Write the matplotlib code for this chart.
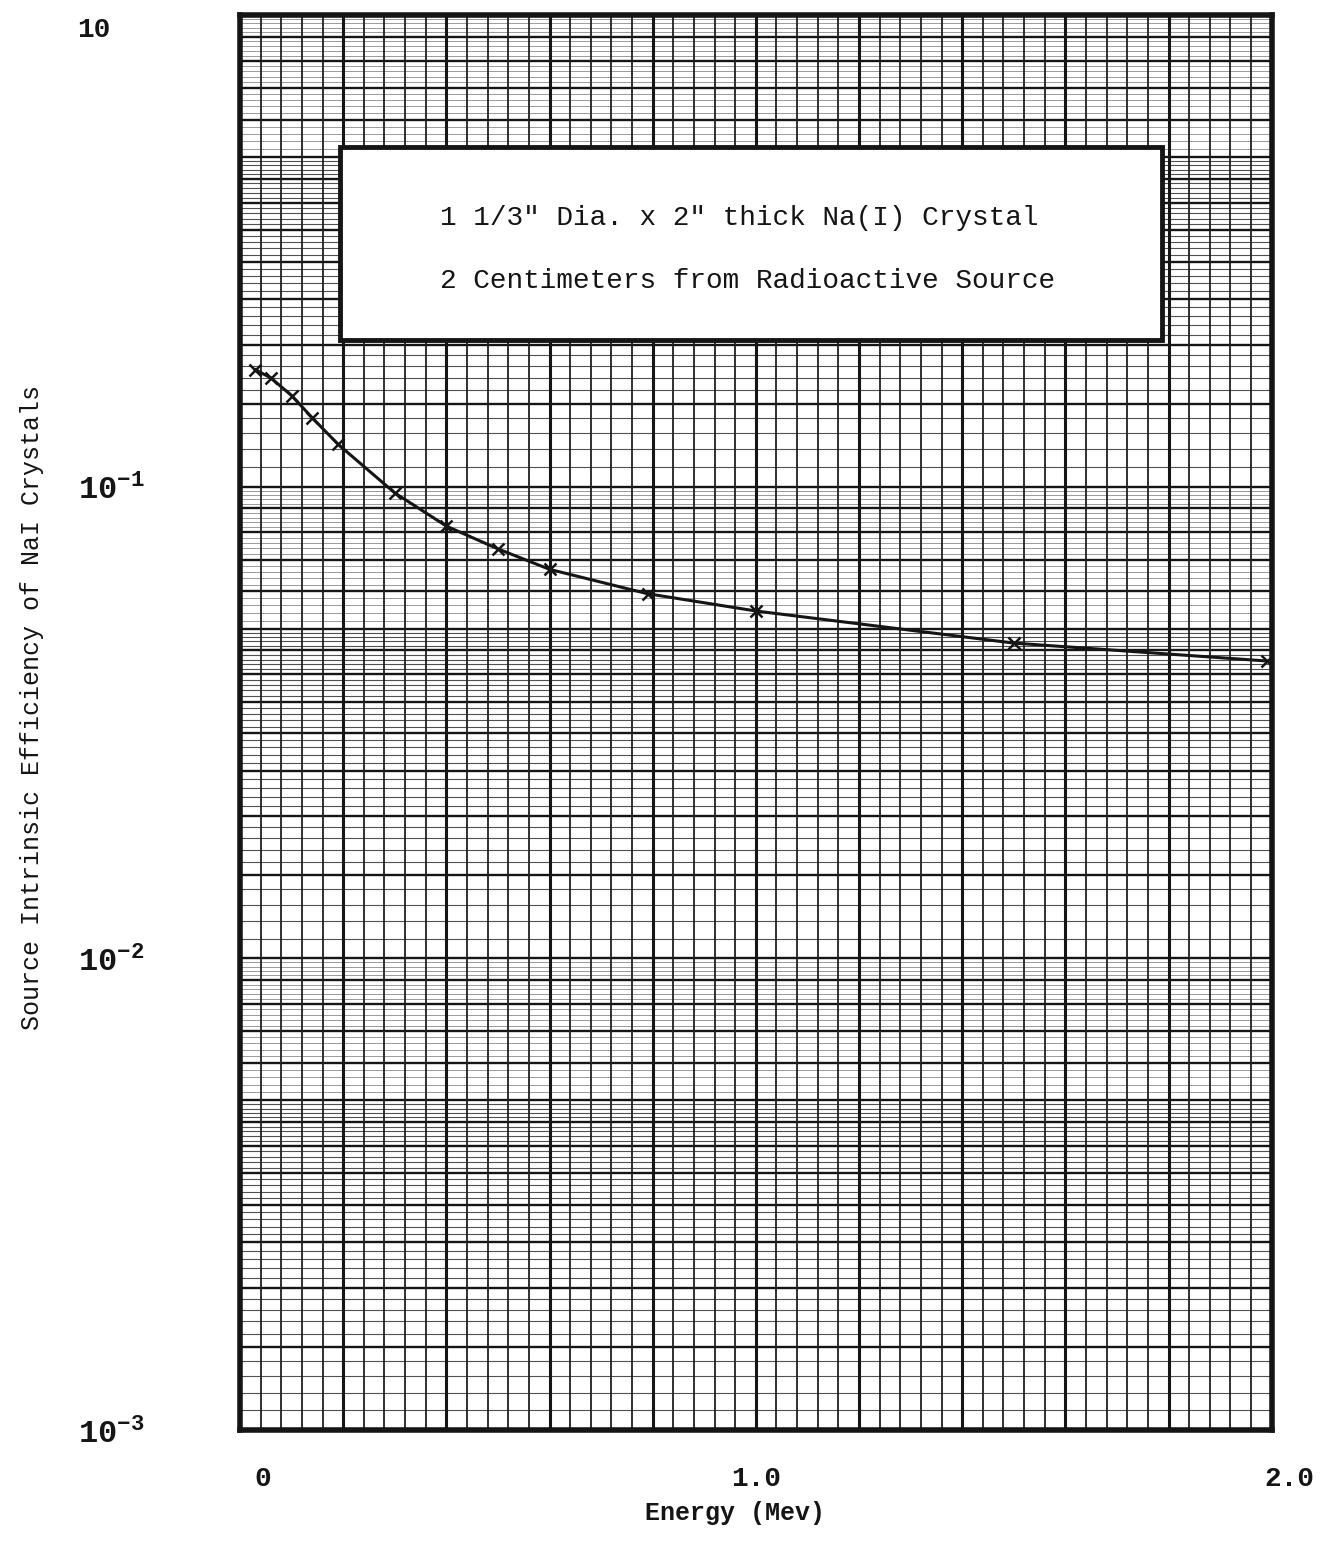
import numpy as np
import matplotlib
matplotlib.use('Agg')
import matplotlib.pyplot as plt
from matplotlib.patches import Rectangle
from matplotlib.transforms import ScaledTranslation

# Data
energy = [0.03, 0.06, 0.10, 0.14, 0.19, 0.30, 0.40, 0.50, 0.60, 0.79, 1.00, 1.50, 1.99]  # Mev
efficiency = [0.177, 0.170, 0.156, 0.140, 0.123, 0.097, 0.0825, 0.0738, 0.0668,
              0.0593, 0.0545, 0.0466, 0.0427]

y_ticks = [1e-3, 1e-2, 1e-1, 1.0]
y_tick_labels = ['$10^{-3}$', '$10^{-2}$', '$10^{-1}$', '10']
x_ticks = [0.0, 1.0, 2.0]
x_tick_labels = ['0', '1.0', '2.0']

box_lines = ['1 1/3" Dia. x 2" thick Na(I) Crystal',
             '2 Centimeters from Radioactive Source']

# Graph paper rulings (per decade mantissas)
bold_mant = [1, 1.5, 2, 2.5, 3, 3.5, 4, 4.5, 5, 6, 7, 8, 9]
fine_mant = [m / 10 for m in range(11, 50) if m % 5 != 0]
faint_mant = [5.2, 5.4, 5.6, 5.8, 6.2, 6.4, 6.6, 6.8, 7.2, 7.4, 7.6, 7.8,
              8.2, 8.4, 8.6, 8.8, 9.2, 9.4, 9.6, 9.8]
decades = [1e-3, 1e-2, 1e-1]

plt.rcParams['font.family'] = ['Liberation Mono', 'DejaVu Sans Mono']
plt.rcParams['mathtext.fontset'] = 'custom'
plt.rcParams['mathtext.rm'] = 'Liberation Mono:bold'
plt.rcParams['mathtext.bf'] = 'Liberation Mono:bold'

fig = plt.figure(figsize=(13.26, 15.55), dpi=100)
ax = fig.add_axes([240 / 1326, 1 - 1430 / 1555, 1031.7 / 1326, 1415 / 1555])
ax.set_yscale('log')
ax.set_xlim(0, 2.0)
ax.set_ylim(1e-3, 1.0)

ink = '#151515'

# horizontal rulings
for d in decades:
    for m in faint_mant:
        ax.axhline(m * d, color='#8a8a8a', lw=0.6, zorder=1)
    for m in fine_mant:
        ax.axhline(m * d, color='#505050', lw=0.8, zorder=1)
    for m in bold_mant:
        ax.axhline(m * d, color=ink, lw=1.7, zorder=2)

# vertical rulings
for i in range(1, 50):
    xv = i * 0.04
    if i % 5 == 0:
        ax.axvline(xv, color=ink, lw=2.2, zorder=2)
    else:
        ax.axvline(xv, color='#202020', lw=1.3, zorder=2)

for s in ax.spines.values():
    s.set_linewidth(4)
    s.set_color(ink)

# curve with x marks
ax.plot(energy, efficiency, color=ink, lw=2.2, marker='x', ms=8, mew=1.8, zorder=5,
        clip_on=False)

# label box
ax.add_patch(Rectangle((0.0969, 0.7703), 0.7968, 0.1364, transform=ax.transAxes,
                       facecolor='white', edgecolor=ink, lw=3.5, zorder=6))
ax.text(0.194, 0.8565, box_lines[0], transform=ax.transAxes, fontsize=20,
        ha='left', va='center', color=ink, zorder=7)
ax.text(0.194, 0.812, box_lines[1], transform=ax.transAxes, fontsize=20,
        ha='left', va='center', color=ink, zorder=7)

# ticks
ax.set_yticks(y_ticks)
ax.set_yticklabels(y_tick_labels)
ax.yaxis.set_minor_locator(matplotlib.ticker.NullLocator())
ax.set_xticks(x_ticks)
ax.set_xticklabels(x_tick_labels)
ax.tick_params(axis='both', length=0)
ax.tick_params(axis='y', pad=117, labelsize=23)
ax.tick_params(axis='x', pad=26, labelsize=20)
ylabs = ax.get_yticklabels()
for lab in ylabs:
    lab.set_horizontalalignment('left')
    lab.set_fontweight('bold')
    lab.set_color(ink)
ylabs[-1].set_fontsize(20)
ylabs[-1].set_transform(ylabs[-1].get_transform() + ScaledTranslation(0, -0.12, fig.dpi_scale_trans))
for lab in ax.get_xticklabels():
    lab.set_fontweight('bold')
    lab.set_color(ink)
xl = ax.get_xticklabels()
xl[0].set_transform(xl[0].get_transform() + ScaledTranslation(0.23, 0, fig.dpi_scale_trans))
xl[2].set_transform(xl[2].get_transform() + ScaledTranslation(0.18, 0, fig.dpi_scale_trans))

fig.text(0.024, 0.545, 'Source Intrinsic Efficiency of NaI Crystals', rotation=90,
         fontsize=18, ha='center', va='center', color=ink)
fig.text(0.554, 0.027, 'Energy (Mev)', fontsize=18, fontweight='bold',
         ha='center', va='center', color=ink)

fig.savefig('out.png', dpi=100, facecolor='white')
